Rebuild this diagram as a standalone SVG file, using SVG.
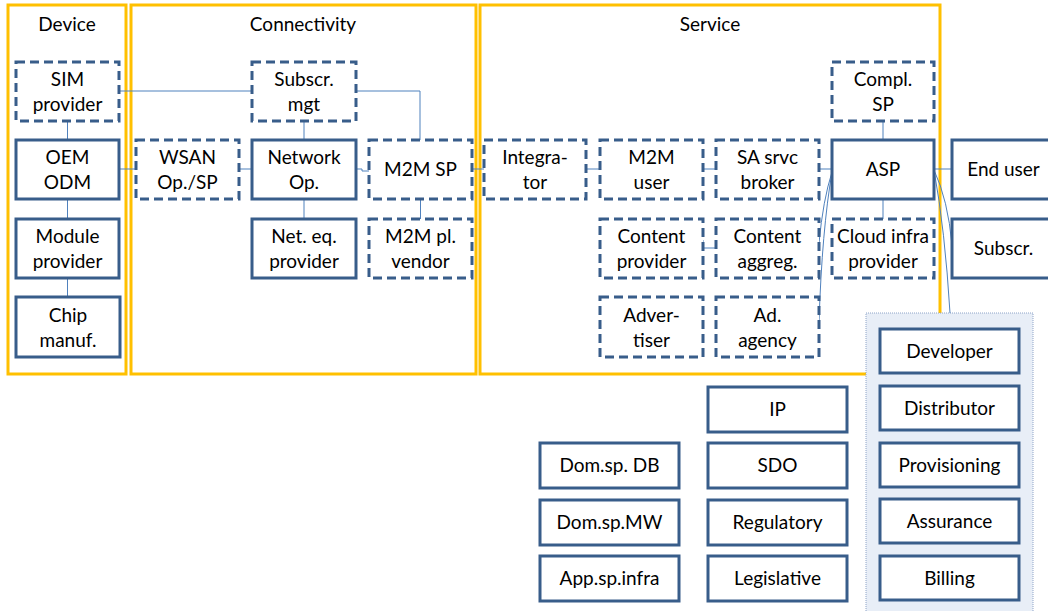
<svg xmlns="http://www.w3.org/2000/svg" width="1048" height="611" viewBox="0 0 1048 611">
<style>
.c{fill:none;stroke:#FFC000;stroke-width:3}
.n{fill:#fff;stroke:#385D8A;stroke-width:3}
.d{fill:#fff;stroke:#385D8A;stroke-width:3;stroke-dasharray:9 5}
.l{fill:none;stroke:#4F81BD;stroke-width:1}
.t{font-family:Lato,"Liberation Sans",sans-serif;font-size:19px;fill:#000;text-anchor:middle}
.p{fill:#E8EEF7;stroke:#8EA4C8;stroke-width:1;stroke-dasharray:1 1}
</style>
<rect width="1048" height="611" fill="#fff"/>
<g id="containers">
<rect class="c" x="8" y="5" width="118" height="369"/>
<text class="t" x="67" y="31">Device</text>
<rect class="c" x="131" y="5" width="345" height="369"/>
<text class="t" x="303" y="31">Connectivity</text>
<rect class="c" x="480" y="5" width="460" height="369"/>
<text class="t" x="710" y="31">Service</text>
</g>
<g id="panel">
<rect class="p" x="866" y="313" width="167" height="310"/>
</g>
<g id="connectors">
<path class="l" d="M119 91H252"/>
<path class="l" d="M356 91H420V140"/>
<path class="l" d="M67.5 121V140M67.5 199V219M67.5 278V297"/>
<path class="l" d="M119 169H136"/>
<path class="l" d="M239 169H252"/>
<path class="l" d="M356 169H362V171H369"/>
<path class="l" d="M304 121V140M304 199V219"/>
<path class="l" d="M420.5 199V219"/>
<path class="l" d="M472 169H484"/>
<path class="l" d="M586 169H600"/>
<path class="l" d="M703 169H716"/>
<path class="l" d="M819 169H832"/>
<path class="l" d="M883 121V140M883 199V219"/>
<path class="l" d="M934 169H952"/>
<path class="l" d="M703 240V248H716"/>
<path class="l" d="M832 172Q823 200 819 243"/>
<path class="l" d="M832 172Q822 230 819 322"/>
<path class="l" d="M934 170Q948 200 952 245"/>
<path class="l" d="M934 170Q945 230 950 313"/>
<path class="l" d="M673 327H685"/>
</g>
<g id="sim"><rect class="d" x="16" y="62" width="103" height="59"/><text class="t" x="67.5" y="86">SIM</text><text class="t" x="67.5" y="111">provider</text></g>
<g id="oem"><rect class="n" x="16" y="140" width="103" height="59"/><text class="t" x="67.5" y="164">OEM</text><text class="t" x="67.5" y="189">ODM</text></g>
<g id="module"><rect class="n" x="16" y="219" width="103" height="59"/><text class="t" x="67.5" y="243">Module</text><text class="t" x="67.5" y="268">provider</text></g>
<g id="chip"><rect class="n" x="16" y="297" width="104" height="60"/><text class="t" x="68" y="322">Chip</text><text class="t" x="68" y="347">manuf.</text></g>
<g id="wsan"><rect class="d" x="136" y="140" width="103" height="59"/><text class="t" x="187.5" y="164">WSAN</text><text class="t" x="187.5" y="189">Op./SP</text></g>
<g id="subscr-mgt"><rect class="d" x="252" y="62" width="104" height="59"/><text class="t" x="304" y="86">Subscr.</text><text class="t" x="304" y="111">mgt</text></g>
<g id="network-op"><rect class="n" x="252" y="140" width="104" height="59"/><text class="t" x="304" y="164">Network</text><text class="t" x="304" y="189">Op.</text></g>
<g id="net-eq"><rect class="n" x="252" y="219" width="104" height="59"/><text class="t" x="304" y="243">Net. eq.</text><text class="t" x="304" y="268">provider</text></g>
<g id="m2m-sp"><rect class="d" x="369" y="140" width="103" height="59"/><text class="t" x="420.5" y="176">M2M SP</text></g>
<g id="m2m-pl"><rect class="d" x="369" y="219" width="103" height="59"/><text class="t" x="420.5" y="243">M2M pl.</text><text class="t" x="420.5" y="268">vendor</text></g>
<g id="integrator"><rect class="d" x="484" y="140" width="102" height="59"/><text class="t" x="535" y="164">Integra-</text><text class="t" x="535" y="189">tor</text></g>
<g id="m2m-user"><rect class="d" x="600" y="140" width="103" height="59"/><text class="t" x="651.5" y="164">M2M</text><text class="t" x="651.5" y="189">user</text></g>
<g id="sa-broker"><rect class="d" x="716" y="140" width="103" height="59"/><text class="t" x="767.5" y="164">SA srvc</text><text class="t" x="767.5" y="189">broker</text></g>
<g id="asp"><rect class="n" x="832" y="140" width="102" height="59"/><text class="t" x="883" y="176">ASP</text></g>
<g id="compl-sp"><rect class="d" x="832" y="62" width="102" height="59"/><text class="t" x="883" y="86">Compl.</text><text class="t" x="883" y="111">SP</text></g>
<g id="content-provider"><rect class="d" x="600" y="219" width="103" height="59"/><text class="t" x="651.5" y="243">Content</text><text class="t" x="651.5" y="268">provider</text></g>
<g id="content-aggreg"><rect class="d" x="716" y="219" width="103" height="59"/><text class="t" x="767.5" y="243">Content</text><text class="t" x="767.5" y="268">aggreg.</text></g>
<g id="cloud-infra"><rect class="d" x="832" y="219" width="102" height="59"/><text class="t" x="883" y="243">Cloud infra</text><text class="t" x="883" y="268">provider</text></g>
<g id="advertiser"><rect class="d" x="600" y="297" width="103" height="60"/><text class="t" x="651.5" y="322">Adver-</text><text class="t" x="651.5" y="347">tiser</text></g>
<g id="ad-agency"><rect class="d" x="716" y="297" width="103" height="60"/><text class="t" x="767.5" y="322">Ad.</text><text class="t" x="767.5" y="347">agency</text></g>
<g id="end-user"><rect class="n" x="952" y="140" width="103" height="59"/><text class="t" x="1003.5" y="176">End user</text></g>
<g id="subscr"><rect class="n" x="952" y="219" width="103" height="59"/><text class="t" x="1003.5" y="255">Subscr.</text></g>
<g id="developer"><rect class="n" x="880" y="329" width="139" height="44"/><text class="t" x="949.5" y="357.5">Developer</text></g>
<g id="distributor"><rect class="n" x="880" y="386" width="139" height="44"/><text class="t" x="949.5" y="414.5">Distributor</text></g>
<g id="provisioning"><rect class="n" x="880" y="443" width="139" height="44"/><text class="t" x="949.5" y="471.5">Provisioning</text></g>
<g id="assurance"><rect class="n" x="880" y="499" width="139" height="44"/><text class="t" x="949.5" y="527.5">Assurance</text></g>
<g id="billing"><rect class="n" x="880" y="556" width="139" height="44"/><text class="t" x="949.5" y="584.5">Billing</text></g>
<g id="ip"><rect class="n" x="708" y="387" width="139" height="45"/><text class="t" x="777.5" y="416">IP</text></g>
<g id="sdo"><rect class="n" x="708" y="443" width="139" height="45"/><text class="t" x="777.5" y="472">SDO</text></g>
<g id="regulatory"><rect class="n" x="708" y="500" width="139" height="45"/><text class="t" x="777.5" y="529">Regulatory</text></g>
<g id="legislative"><rect class="n" x="708" y="556" width="139" height="45"/><text class="t" x="777.5" y="585">Legislative</text></g>
<g id="dom-db"><rect class="n" x="540" y="443" width="139" height="45"/><text class="t" x="609.5" y="472">Dom.sp. DB</text></g>
<g id="dom-mw"><rect class="n" x="540" y="500" width="139" height="45"/><text class="t" x="609.5" y="529">Dom.sp.MW</text></g>
<g id="app-infra"><rect class="n" x="540" y="556" width="139" height="45"/><text class="t" x="609.5" y="585">App.sp.infra</text></g>
</svg>
